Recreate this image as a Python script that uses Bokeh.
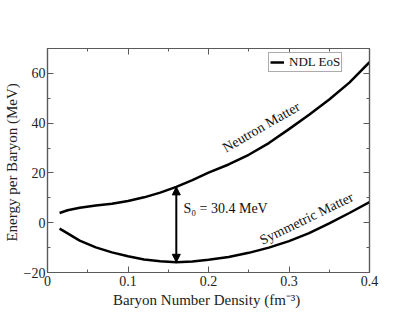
from bokeh.plotting import figure
from bokeh.models import (LinearAxis, Arrow, NormalHead, Legend, LegendItem,
                          CustomJSTickFormatter, FixedTicker, Range1d, ColumnDataSource)
from bokeh.core.properties import value
from bokeh.embed import file_html
from bokeh.resources import INLINE
import math

density = [0.015, 0.025, 0.04, 0.06, 0.08, 0.10, 0.12, 0.14, 0.16, 0.18, 0.20,
           0.225, 0.25, 0.275, 0.30, 0.325, 0.35, 0.375, 0.40]
neutron = [3.9, 5.0, 6.0, 6.9, 7.6, 8.7, 10.2, 12.1, 14.4, 17.1, 20.1,
           23.4, 27.3, 32.0, 37.6, 43.4, 49.5, 56.3, 64.5]
symmetric = [-2.4, -4.3, -7.2, -9.9, -11.9, -13.5, -14.8, -15.5, -15.9, -15.6, -14.9,
             -13.8, -12.1, -10.0, -7.4, -4.2, -0.3, 3.9, 8.3]

saturation_density = 0.16
symmetry_energy_label = "S\u2080 = 30.4 MeV"
curve_labels = ["Neutron Matter", "Symmetric Matter"]
label_x = [0.2656, 0.3218]
label_y = [38.4, 1.7]
label_angle_deg = [30, 26]

x_ticks = [0, 0.1, 0.2, 0.3, 0.4]
y_ticks = [-20, 0, 20, 40, 60]

FONT = "'Liberation Serif', 'Times New Roman', serif"
GRAY = "#5a5a5a"

p = figure(frame_width=322, frame_height=224, output_backend="svg", toolbar_location=None,
           x_range=Range1d(0, 0.4), y_range=Range1d(-20, 70),
           min_border_left=47, min_border_top=48, min_border_right=30, min_border_bottom=30)
p.grid.visible = False
p.outline_line_color = GRAY
p.outline_line_width = 1.2
p.background_fill_color = "white"
p.border_fill_color = "white"


def style_axis(ax, ticks, minor):
    ax.ticker = FixedTicker(ticks=ticks, minor_ticks=minor)
    ax.axis_line_color = GRAY
    ax.axis_line_width = 1.2
    ax.major_tick_line_color = GRAY
    ax.minor_tick_line_color = GRAY
    ax.major_tick_in = 6
    ax.major_tick_out = 0
    ax.minor_tick_in = 3
    ax.minor_tick_out = 0
    ax.major_label_text_font = FONT
    ax.major_label_text_font_size = "14px"
    ax.major_label_text_color = "#222222"
    ax.axis_label_text_font = FONT
    ax.axis_label_text_font_size = "15px"
    ax.axis_label_text_font_style = "normal"
    ax.axis_label_text_color = "#222222"


x_minor = [0.05, 0.15, 0.25, 0.35]
y_minor = [-10, 10, 30, 50, 70]

style_axis(p.xaxis[0], x_ticks, x_minor)
style_axis(p.yaxis[0], y_ticks, y_minor)
p.xaxis[0].axis_label = "Baryon Number Density  (fm\u207b\u00b3)"
p.yaxis[0].axis_label = "Energy per Baryon  (MeV)"
p.xaxis[0].major_label_standoff = 3
p.yaxis[0].major_label_standoff = 2
p.xaxis[0].axis_label_standoff = 3
p.yaxis[0].axis_label_standoff = 1

top = LinearAxis(formatter=CustomJSTickFormatter(code="return ''"))
right = LinearAxis(formatter=CustomJSTickFormatter(code="return ''"))
style_axis(top, x_ticks, x_minor)
style_axis(right, y_ticks, y_minor)
p.add_layout(top, "above")
p.add_layout(right, "right")

src = ColumnDataSource(dict(x=density, n=neutron, s=symmetric))
r1 = p.line("x", "n", source=src, line_color="black", line_width=2.5)
p.line("x", "s", source=src, line_color="black", line_width=2.5)

i = density.index(saturation_density)
arrow = Arrow(x_start=saturation_density, y_start=symmetric[i],
              x_end=saturation_density, y_end=neutron[i],
              start=NormalHead(size=8, fill_color="black", line_color="black"),
              end=NormalHead(size=8, fill_color="black", line_color="black"),
              line_width=2, line_color="black")
p.add_layout(arrow)

p.text(x=[saturation_density + 0.0088], y=[5.7], text=[symmetry_energy_label],
       text_font=value(FONT), text_font_size="14px", text_align="left",
       text_baseline="middle", text_color="#111111")

p.text(x=label_x, y=label_y, text=curve_labels,
       angle=[math.radians(a) for a in label_angle_deg],
       text_font=value(FONT), text_font_size="14px", text_align="center",
       text_baseline="middle", text_color="#111111")

legend = Legend(items=[LegendItem(label="NDL EoS", renderers=[r1])],
                location=(221, 200))
legend.label_text_font = FONT
legend.label_text_font_size = "13px"
legend.label_text_color = "#111111"
legend.border_line_color = GRAY
legend.border_line_width = 1
legend.padding = 1
legend.margin = 0
legend.glyph_width = 14
legend.glyph_height = 10
legend.label_height = 10
legend.label_standoff = 5
legend.spacing = 0
p.add_layout(legend)

open("out.html", "w").write(file_html(p, INLINE))
